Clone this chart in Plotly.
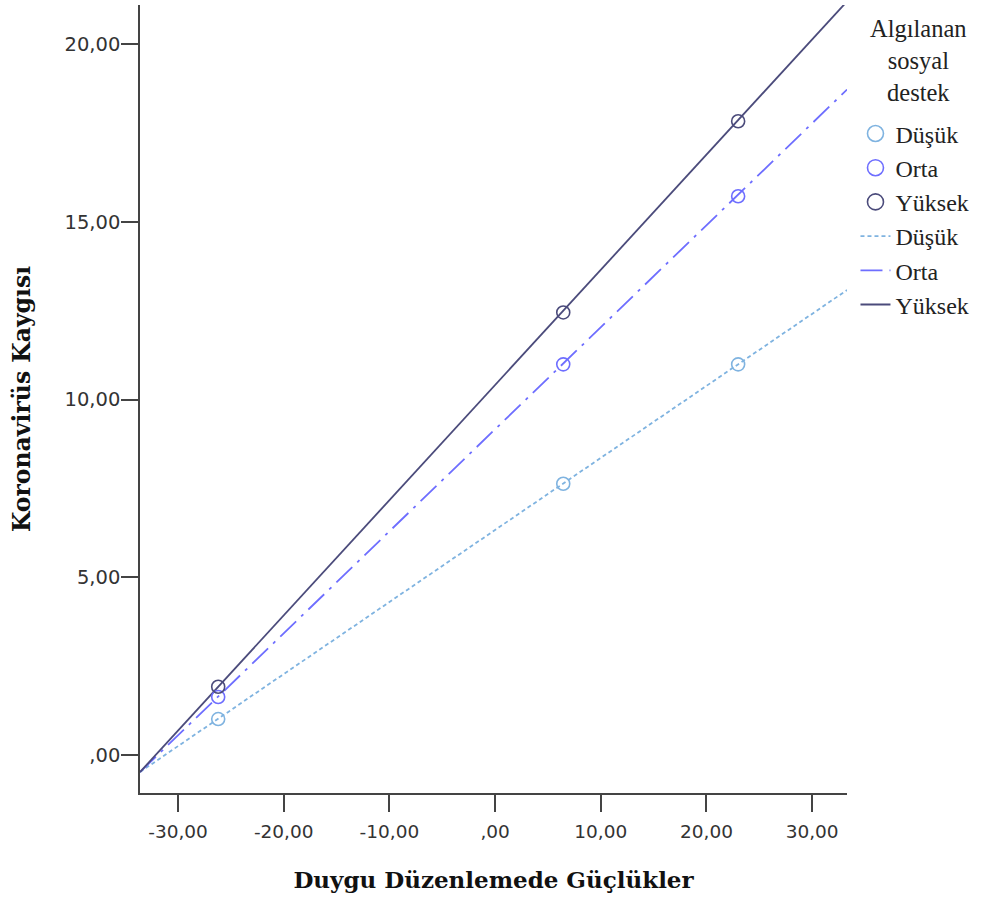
import plotly.graph_objects as go

# ---- data ----
groups = ["Düşük", "Orta", "Yüksek"]
point_x = [-26.2, 6.45, 23.0]
points_dusuk = [1.01, 7.63, 10.99]
points_orta = [1.63, 10.99, 15.72]
points_yuksek = [1.92, 12.45, 17.83]

line_x = [-33.6, 33.3]
fit_dusuk = [-0.48, 13.08]
fit_orta = [-0.48, 18.72]
fit_yuksek = [-0.48, 21.2]

x_tickvals = [-30, -20, -10, 0, 10, 20, 30]
x_ticktext = ["-30,00", "-20,00", "-10,00", ",00", "10,00", "20,00", "30,00"]
y_tickvals = [0, 5, 10, 15, 20]
y_ticktext = [",00", "5,00", "10,00", "15,00", "20,00"]

legend_title = "Algılanan<br>sosyal<br>destek"

colors = ["#7fb3e0", "#6e6eff", "#4b4b7b"]
dashes = ["4px,3px", "22px,7px,3px,7px", "solid"]

point_sets = [points_dusuk, points_orta, points_yuksek]
fit_sets = [fit_dusuk, fit_orta, fit_yuksek]

fig = go.Figure()

# fit lines
for i, (name, ys, c, d) in enumerate(zip(groups, fit_sets, colors, dashes)):
    fig.add_trace(go.Scatter(
        x=line_x, y=ys, mode="lines", name=name,
        line=dict(color=c, width=1.8, dash=d),
        legendrank=2000 + i, legendgroup="l%d" % i,
    ))

# points (no legend), plus legend-only entries with larger circles
for i, (name, ys, c) in enumerate(zip(groups, point_sets, colors)):
    fig.add_trace(go.Scatter(
        x=point_x, y=ys, mode="markers", name=name, showlegend=False,
        marker=dict(symbol="circle-open", size=13, color=c, line=dict(width=1.6, color=c)),
    ))
    fig.add_trace(go.Scatter(
        x=[None], y=[None], mode="markers", name=name,
        marker=dict(symbol="circle-open", size=16, color=c, line=dict(width=1.6, color=c)),
        legendrank=1000 + i, legendgroup="m%d" % i,
    ))

serif = "Liberation Serif, Times New Roman, serif"
plot_w = 992 - 140 - 145
fig.add_annotation(
    x=(918 - 140) / plot_w, xref="paper", y=0.93, yref="paper", text=legend_title,
    showarrow=False, align="center", xanchor="center", yanchor="middle",
    font=dict(family=serif, size=24.5, color="#222"),
)

fig.update_layout(
    width=992, height=899,
    margin=dict(l=140, r=145, t=5, b=106),
    paper_bgcolor="white", plot_bgcolor="white",
    showlegend=True,
    legend=dict(
        x=1.012, y=0.865, xanchor="left", yanchor="top",
        font=dict(family=serif, size=24, color="#222"),
        itemsizing="trace", bgcolor="rgba(0,0,0,0)",
        tracegroupgap=0,
    ),
    xaxis=dict(
        range=[-33.6, 33.3], tickvals=x_tickvals, ticktext=x_ticktext,
        showgrid=False, zeroline=False, showline=True, linecolor="#444", linewidth=1.5,
        ticks="outside", ticklen=17, tickwidth=1.5, tickcolor="#444",
        ticklabelstandoff=4,
        tickfont=dict(family="DejaVu Sans, sans-serif", size=18.5, color="#333"),
        title=dict(text="<b>Duygu Düzenlemede Güçlükler</b>", standoff=31,
                   font=dict(family="DejaVu Serif, serif", size=23, color="#111")),
    ),
    yaxis=dict(
        range=[-1.07, 21.1], tickvals=y_tickvals, ticktext=y_ticktext,
        showgrid=False, zeroline=False, showline=True, linecolor="#444", linewidth=1.5,
        ticks="outside", ticklen=17, tickwidth=1.5, tickcolor="#444",
        ticklabelstandoff=-3,
        tickfont=dict(family="DejaVu Sans, sans-serif", size=19.5, color="#333"),
        title=dict(text="<b>Koronavirüs Kaygısı</b>", standoff=27,
                   font=dict(family="DejaVu Serif, serif", size=23.5, color="#111")),
    ),
)

fig.write_html("out.html", config={"displayModeBar": False},
               post_script="document.body.style.margin='0px';")
